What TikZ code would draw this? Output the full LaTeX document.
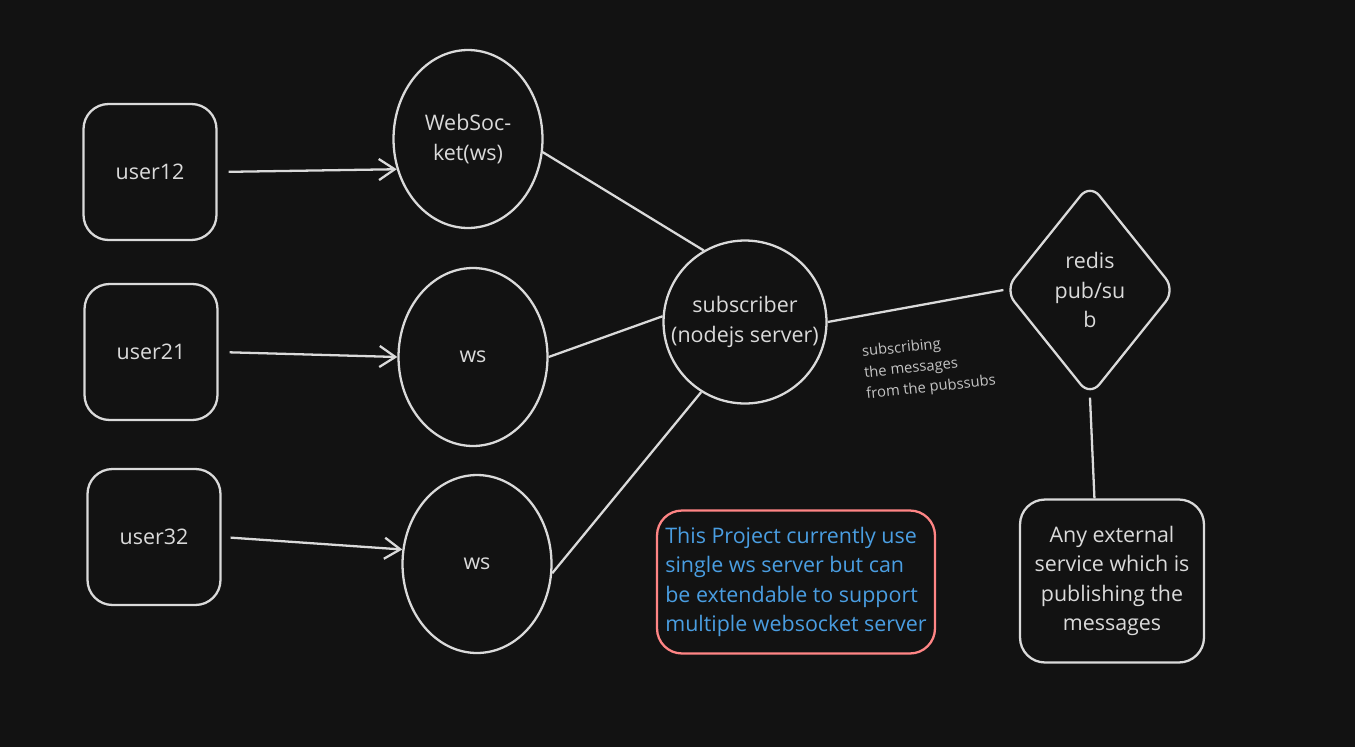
\documentclass[tikz,border=0pt]{standalone}
\usepackage{fontspec}
\setmainfont{Open Sans}
\usetikzlibrary{shapes.geometric,arrows.meta}
\definecolor{canvas}{HTML}{121212}
\definecolor{ink}{HTML}{DADADA}
\definecolor{notered}{HTML}{FF8585}
\definecolor{noteblue}{HTML}{4A9EE2}
\definecolor{faint}{HTML}{C4C4C4}
\begin{document}
\begin{tikzpicture}[x=0.02cm,y=-0.02cm,
  every node/.style={text=ink,font=\fontsize{12.2}{16.8}\selectfont},
  userbox/.style={draw=ink,line width=1.3pt,rounded corners=0.5cm,minimum width=2.66cm,minimum height=2.72cm},
  wsnode/.style={draw=ink,line width=1.3pt,ellipse,inner sep=0pt,minimum width=2.98cm,minimum height=3.56cm,align=center},
  link/.style={draw=ink,line width=1.3pt},
  arrow/.style={link,-{Straight Barb[length=9pt,width=12pt]}}]
% Background
\fill[canvas] (0,0) rectangle (1355,747);

% Users
\node[userbox] (u12) at (150,172) {user12};
\node[userbox] (u21) at (151,352) {user21};
\node[userbox] (u32) at (154,537) {user32};

% Socket servers
\node[wsnode] (ws1) at (468,139) {WebSoc-\\ket(ws)};
\node[wsnode] (ws2) at (473,357) {ws};
\node[wsnode] (ws3) at (477,564) {ws};

% Subscriber and redis
\node[draw=ink,line width=1.3pt,circle,minimum size=3.26cm,inner sep=0pt,align=center] (sub) at (745,322) {subscriber\\(nodejs server)};
\node[draw=ink,line width=1.3pt,diamond,rounded corners=0.3cm,minimum width=3.42cm,minimum height=4.26cm,inner sep=0pt,align=center] (redis) at (1090,290) {redis\\pub/su\\b};
\node[userbox,minimum width=3.68cm,minimum height=3.26cm,align=center] (ext) at (1112,581) {Any external\\service which is\\publishing the\\messages};

% Note
\node[draw=notered,line width=1.3pt,rounded corners=0.5cm,minimum width=5.56cm,minimum height=2.86cm,align=left,text=noteblue] (note) at (796,582) {This Project currently use\\single ws server but can\\be extendable to support\\multiple websocket server};

% Arrows
\draw[arrow,shorten <=0.22cm] (u12.east) -- (ws1.203);
\draw[arrow,shorten <=0.22cm] (u21.east) -- (ws2.west);
\draw[arrow,shorten <=0.18cm] (u32.east) -- (ws3.169);

% Links
\draw[link] (ws1.-10) -- (sub.120);
\draw[link] (ws2.east) -- (sub.176);
\draw[link] (ws3.-7) -- (sub.-122);
\draw[link] (sub.east) -- (redis.west);
\draw[link] (redis.south) -- (ext.102);

% Label
\node[font=\fontsize{8.4}{12}\selectfont,text=faint,align=left,rotate=6] (lbl) at (929,367) {subscribing\\the messages\\from the pubssubs};
\end{tikzpicture}
\end{document}
